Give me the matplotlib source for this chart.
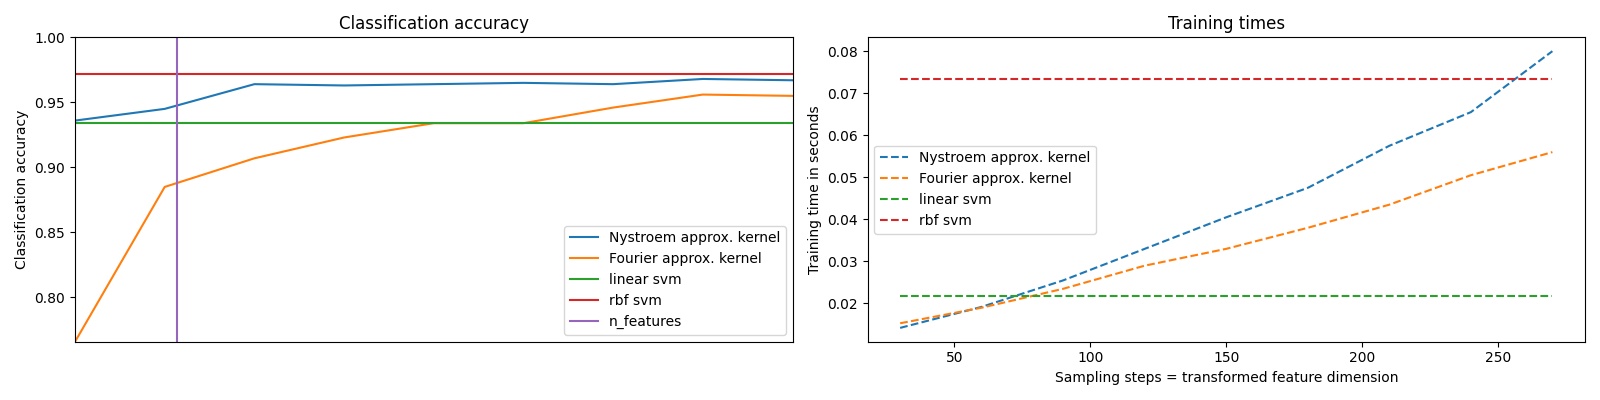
import numpy as np
import matplotlib.pyplot as plt

sample_sizes = [30, 60, 90, 120, 150, 180, 210, 240, 270]
nystroem_scores = [0.936, 0.945, 0.964, 0.963, 0.964, 0.965, 0.964, 0.968, 0.967]
fourier_scores = [0.766, 0.885, 0.907, 0.923, 0.934, 0.934, 0.946, 0.956, 0.955]
linear_score = 0.934
kernel_score = 0.972
n_features = 64

nystroem_times = [0.0142, 0.0192, 0.0255, 0.033, 0.0405, 0.0475, 0.0575, 0.0655, 0.080]
fourier_times = [0.0153, 0.019, 0.0235, 0.029, 0.033, 0.038, 0.0435, 0.0505, 0.056]
linear_time = 0.0218
kernel_time = 0.0735

fig = plt.figure(figsize=(16, 4))
accuracy = plt.subplot(121)
timescale = plt.subplot(122)

accuracy.plot(sample_sizes, nystroem_scores, label="Nystroem approx. kernel")
timescale.plot(sample_sizes, nystroem_times, "--", label="Nystroem approx. kernel")
accuracy.plot(sample_sizes, fourier_scores, label="Fourier approx. kernel")
timescale.plot(sample_sizes, fourier_times, "--", label="Fourier approx. kernel")

accuracy.plot([sample_sizes[0], sample_sizes[-1]], [linear_score, linear_score], label="linear svm")
timescale.plot([sample_sizes[0], sample_sizes[-1]], [linear_time, linear_time], "--", label="linear svm")
accuracy.plot([sample_sizes[0], sample_sizes[-1]], [kernel_score, kernel_score], label="rbf svm")
timescale.plot([sample_sizes[0], sample_sizes[-1]], [kernel_time, kernel_time], "--", label="rbf svm")

accuracy.plot([n_features, n_features], [0.7, 1], label="n_features")

accuracy.set_title("Classification accuracy")
timescale.set_title("Training times")
accuracy.set_xlim(sample_sizes[0], sample_sizes[-1])
accuracy.set_xticks(())
accuracy.set_ylim(np.min(fourier_scores), 1)
timescale.set_xlabel("Sampling steps = transformed feature dimension")
accuracy.set_ylabel("Classification accuracy")
timescale.set_ylabel("Training time in seconds")
accuracy.legend(loc="best")
timescale.legend(loc="best")
fig.tight_layout()
fig.savefig("out.png", dpi=100)
